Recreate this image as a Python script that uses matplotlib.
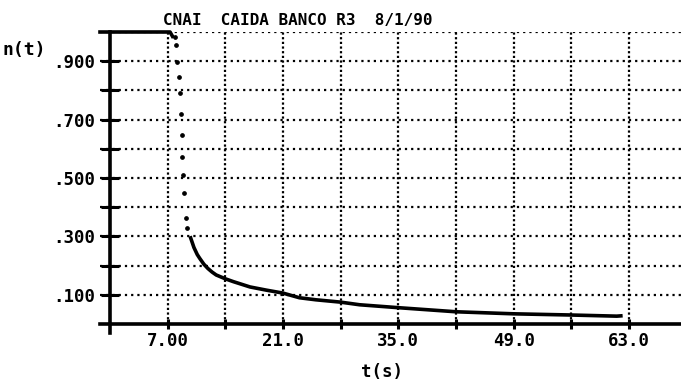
import matplotlib
matplotlib.use("Agg")
from matplotlib import pyplot as plt

# tramo inicial a potencia plena
t_plano = [-1.2, 7.3, 7.6]
n_plano = [1.0, 1.0, 0.985]

# caida rapida: el trazador solo marca puntos sueltos
t_caida = [7.9, 8.0, 8.1, 8.4, 8.5, 8.6, 8.7, 8.8, 8.9, 9.0, 9.2, 9.4]
n_caida = [0.983, 0.955, 0.897, 0.846, 0.79, 0.72, 0.647, 0.573, 0.509, 0.448, 0.363, 0.33]

# decaimiento lento (neutrones retardados)
t_curva = [9.8, 10.2, 10.6, 10.9, 11.4, 11.9, 12.4, 12.9, 14.0, 15.0, 17.0,
           19.0, 21.0, 22.0, 23.0, 25.0, 28.0, 30.3, 35.0, 42.0, 49.0, 55.8,
           61.5, 62.0]
n_curva = [0.295, 0.262, 0.238, 0.225, 0.205, 0.19, 0.178, 0.168, 0.155, 0.145,
           0.127, 0.116, 0.106, 0.098, 0.09, 0.083, 0.075, 0.066, 0.056, 0.042,
           0.035, 0.031, 0.027, 0.028]

y_ticks = [0.1, 0.2, 0.3, 0.4, 0.5, 0.6, 0.7, 0.8, 0.9]
y_labels = [".100", "", ".300", "", ".500", "", ".700", "", ".900"]
x_ticks = [7, 14, 21, 28, 35, 42, 49, 56, 63]
x_labels = ["7.00", "", "21.0", "", "35.0", "", "49.0", "", "63.0"]
y_grid = y_ticks + [1.0]

fuente = dict(family="DejaVu Sans Mono", weight="bold")

fig = plt.figure(figsize=(6.81, 3.84), dpi=100)
ax = fig.add_axes([100 / 681, 1 - 332.8 / 384, 581 / 681, 300.8 / 384])
ax.set_xlim(-1.2, 69.3)
ax.set_ylim(-0.03, 1.0)

# rejilla punteada
for y in y_grid:
    ax.axhline(y, color="black", linewidth=1.6, linestyle=(0, (1, 1.8)), zorder=1)
for x in x_ticks:
    ax.plot([x, x], [0, 1.0], color="black", linewidth=1.6,
            linestyle=(0, (1, 1.1)), zorder=1)

# ejes cruzados en el origen
for lado in ["top", "right"]:
    ax.spines[lado].set_visible(False)
ax.spines["left"].set_position(("data", 0))
ax.spines["bottom"].set_position(("data", 0))
ax.spines["left"].set_linewidth(2.6)
ax.spines["bottom"].set_linewidth(2.6)

ax.set_yticks(y_ticks)
ax.set_yticklabels(y_labels, fontsize=12.5, **fuente)
ax.set_xticks(x_ticks)
ax.set_xticklabels(x_labels, fontsize=12.5, **fuente)
ax.tick_params(axis="y", direction="inout", length=13.5, width=2.2, pad=4)
ax.tick_params(axis="x", direction="inout", length=7, width=2.2, pad=2)

# n(t)
ax.plot(t_plano, n_plano, color="black", linewidth=2.6, clip_on=False, zorder=3)
ax.plot(t_caida, n_caida, "o", color="black", markersize=2.4, zorder=3)
ax.plot(t_curva, n_curva, color="black", linewidth=2.6, zorder=3)

fig.text(3 / 681, 1 - 50 / 384, "n(t)", fontsize=13, va="center", ha="left", **fuente)
fig.text(382 / 681, 1 - 372 / 384, "t(s)", fontsize=12.5, va="center", ha="center", **fuente)
fig.text(163 / 681, 1 - 20 / 384, "CNAI  CAIDA BANCO R3  8/1/90", fontsize=11.5,
         va="center", ha="left", **fuente)

plt.savefig("out.png", dpi=100)
plt.close()
